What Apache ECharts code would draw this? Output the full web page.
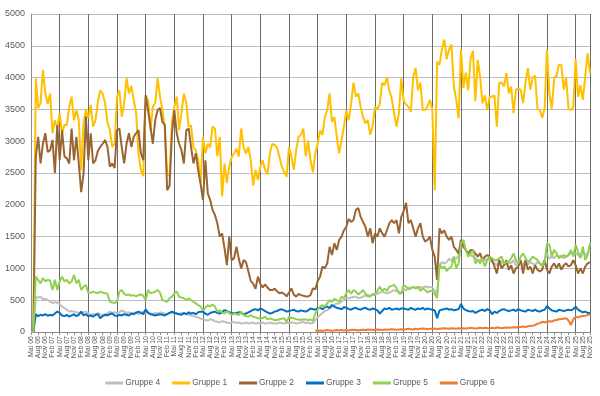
<!DOCTYPE html>
<html>
<head>
<meta charset="utf-8">
<script src="https://cdn.jsdelivr.net/npm/echarts@6/dist/echarts.min.js"></script>
<style>html,body{margin:0;padding:0;background:#fff}#c{width:600px;height:396px}</style>
</head>
<body>
<div id="c"></div>
<script>
// Month names (German) and first year of the category axis
const monthNames = ['Mai','Jun','Jul','Aug','Sep','Okt','Nov','Dez','Jan','Feb','Mrz','Apr'];
const firstYear = 6;
const monthCount = 235; // Mai 06 .. Nov 25

const seriesNames = ['Gruppe 4','Gruppe 1','Gruppe 2','Gruppe 3','Gruppe 5','Gruppe 6'];
const yTicks = [0,500,1000,1500,2000,2500,3000,3500,4000,4500,5000];

// Gruppe 1 (yellow), one row per year Mai..Apr
const g1 = [
 0,0,3990,3520,3600,4120,3750,3590,3750,3125,3330,3200,
 3440,3125,3260,3250,3540,3700,3330,3490,3330,2545,3280,3490,
 3360,3570,3230,3330,3620,3800,3750,3600,3300,3175,2910,2960,
 3700,3800,3385,3600,3990,3750,3870,3650,3450,2800,2545,2450,
 3700,3650,3175,3540,3600,3990,3700,3490,3230,2500,2450,3300,
 3540,3700,3175,3450,3750,3600,3230,3250,2900,2860,2700,2340,
 3070,2810,2960,2900,3230,3200,2760,3070,2130,2650,2340,2600,
 2750,2810,2880,2760,3200,2900,2810,2910,2700,2300,2550,2390,
 2600,2700,2550,2480,2810,2960,2940,2900,2750,2600,2520,2440,
 2910,2760,2550,2860,3070,3100,3200,2760,3010,2700,2510,2810,
 2960,3170,3100,3380,3490,3750,3300,3380,3070,2810,3020,3230,
 3480,3330,3590,3920,3700,3750,3540,3380,3280,3330,3100,3230,
 3540,3500,3590,3920,3880,4000,3800,3670,3440,3230,3440,3990,
 3630,3580,3540,3460,4010,4150,3800,3920,3490,3490,3550,3650,
 3490,2230,4250,4200,4450,4600,4290,4440,4520,3860,3650,3360,
 4440,3840,4080,3800,4290,4420,3630,4280,4010,3595,3720,3490,
 3700,3700,3720,3230,3920,3920,3860,4070,3750,3860,3440,3810,
 3830,3810,3600,3920,4150,3810,4000,4030,3510,3490,3370,3510,
 4440,3750,3510,3990,4030,4200,4200,3810,4000,3510,3490,3540,
 4290,3700,3880,3650,4010,4380,4070
];
// Gruppe 2 (brown)
const g2 = [
 0,0,2750,3070,2650,2960,3125,2830,2860,3020,2500,3250,
 2700,3170,2760,2730,2650,3200,2700,3070,2650,2200,2490,3390,
 2700,3125,2650,2700,2850,2910,2960,3020,2910,2600,2650,2580,
 3175,3200,2900,2650,2960,3125,2910,3070,3125,3175,2810,2700,
 3725,3490,3230,2960,3330,3490,3520,3300,3260,2230,2300,3125,
 3490,3125,2960,2860,2650,3170,3200,2910,2650,2810,2540,2330,
 2075,2700,2180,2075,1920,1840,1710,1500,1550,1320,1050,1500,
 1130,1160,1340,1150,1000,1130,1100,950,800,760,680,870,
 760,700,750,700,660,660,680,640,610,620,600,560,
 620,686,590,555,600,580,570,560,560,580,686,670,
 800,870,1030,1000,1080,1340,1210,1395,1290,1450,1500,1600,
 1655,1780,1730,1760,1920,1950,1810,1730,1655,1500,1630,1395,
 1550,1500,1630,1550,1500,1600,1710,1760,1710,1760,1550,1810,
 1900,2030,1710,1760,1630,1500,1630,1710,1500,1420,1450,1500,
 1290,1185,820,1630,1550,1600,1500,1450,1500,1340,1290,1235,
 1450,1340,1290,1235,1290,1290,1235,1185,1235,1130,1185,1210,
 1185,1130,1030,920,1130,1000,1050,1130,980,1050,920,1000,
 1030,1130,920,1130,980,1030,920,1050,980,950,980,1130,
 980,920,1030,1080,1000,1080,980,1050,1080,1030,1050,1130,
 1050,920,1000,920,1030,1080,1100
];
// Gruppe 3 (blue)
const g3 = [
 0,0,280,250,270,260,280,255,270,260,290,320,
 300,260,250,270,240,260,280,250,270,320,260,280,
 250,260,240,270,280,215,250,270,260,280,290,260,
 250,270,260,280,270,260,290,280,300,320,300,280,
 356,300,280,270,260,270,280,270,260,280,300,320,
 300,290,280,270,300,280,310,290,300,280,310,320,
 320,290,270,300,310,320,300,290,310,345,330,310,
 300,290,300,310,300,280,290,310,330,350,360,340,
 370,350,330,310,290,300,320,330,350,356,340,320,
 330,340,350,330,320,340,330,320,340,370,360,350,
 370,380,360,390,400,380,425,400,380,370,360,390,
 380,360,350,370,380,360,350,370,380,360,350,370,
 360,340,290,330,370,360,380,350,360,370,350,370,
 370,360,350,380,360,350,370,360,380,350,370,360,
 350,340,215,340,350,360,370,350,360,340,350,360,
 440,370,345,330,320,330,300,320,340,350,330,360,
 340,280,320,300,330,350,360,340,330,340,350,330,
 360,340,330,320,350,340,330,350,330,320,340,350,
 410,370,340,330,320,350,340,330,340,350,340,360,
 400,350,330,310,320,300,300
];
// Gruppe 4 (grey)
const g4 = [
 0,0,550,540,555,520,520,500,480,455,470,460,
 440,400,377,350,320,330,320,310,298,300,310,320,
 290,267,280,270,298,280,267,280,290,320,300,310,
 298,310,340,320,300,310,290,300,310,280,300,320,
 300,310,290,280,300,290,310,300,290,280,300,310,
 300,290,280,300,290,280,270,260,250,240,230,210,
 200,190,180,200,190,170,160,150,170,160,150,140,
 150,160,140,150,130,140,150,135,140,150,130,140,
 140,150,130,140,150,135,140,130,150,140,135,145,
 140,150,145,135,140,150,160,140,150,135,140,190,
 230,267,298,330,345,370,400,425,450,450,480,500,
 530,530,540,555,555,530,540,555,580,555,570,580,
 610,600,620,634,620,610,620,640,660,640,634,610,
 680,650,700,690,710,680,700,710,690,720,700,710,
 700,650,600,1050,1100,1080,1100,1150,1120,1185,1150,1200,
 1445,1350,1300,1235,1210,1185,1160,1130,1130,1160,1130,1150,
 1130,1100,1080,1050,1130,1100,1080,1060,1100,1080,1130,1050,
 1080,1100,1050,1130,1060,1100,1080,1050,1100,1080,1050,1130,
 1240,1150,1185,1160,1210,1185,1200,1160,1180,1210,1240,1240,
 1240,1210,1180,1260,1210,1240,1290
];
// Gruppe 5 (green)
const g5 = [
 0,0,870,820,765,850,795,820,810,660,820,660,
 800,870,795,820,765,795,895,765,820,660,712,740,
 610,620,634,620,610,634,620,610,600,476,465,455,
 480,634,660,600,580,590,570,580,560,580,590,570,
 500,660,610,620,634,660,620,503,490,476,530,555,
 610,634,555,540,530,503,530,500,476,450,424,400,
 340,380,424,400,430,400,320,340,310,290,320,300,
 267,290,280,267,320,267,250,240,267,240,230,215,
 215,220,240,200,215,200,190,190,200,210,215,162,
 240,220,215,200,195,190,200,195,190,195,180,290,
 350,400,424,400,450,500,476,520,500,480,555,530,
 610,660,600,660,634,590,620,660,600,580,555,600,
 580,650,712,650,680,650,712,725,740,690,610,600,
 740,712,670,686,712,690,712,650,686,660,620,650,
 640,600,530,1080,1000,1030,960,1000,1030,1180,1000,1080,
 1395,1450,1290,1185,1235,1290,1080,1130,1080,1160,1030,1130,
 1185,1160,1130,1130,1160,1185,1080,1100,1100,1160,1235,1130,
 1080,1185,1235,1160,1100,1130,1185,1160,1130,1080,1030,1100,
 1395,1370,1185,1290,1240,1160,1185,1210,1185,1210,1290,1185,
 1370,1260,1160,1340,1130,1210,1395
];
// Gruppe 6 (orange), starts at month index g6Start
const g6Start = 119;
const g6Values = [
 25,
 20,25,20,25,30,25,20,25,30,25,30,25,
 30,25,30,35,30,25,30,35,30,40,35,30,
 35,40,35,30,40,35,40,45,40,35,40,45,
 40,45,50,45,40,50,45,50,55,50,45,50,
 50,55,45,50,55,60,55,50,60,55,50,60,
 55,60,55,60,65,60,55,60,65,60,65,60,
 60,65,60,70,65,60,65,70,65,70,75,70,
 75,80,85,80,90,95,100,110,130,140,160,150,
 160,170,165,180,190,200,205,210,215,180,110,200,
 240,230,245,250,255,265,280
];
const g6 = new Array(g6Start).fill(null).concat(g6Values);

const categories = [];
for (let i = 0; i < monthCount; i++) {
  const yr = firstYear + Math.floor((i + 4) / 12);
  categories.push(monthNames[i % 12] + ' ' + String(yr).padStart(2, '0'));
}

const colors = ['#BFBFBF','#FFC000','#996633','#0070C0','#92D050','#ED7D31'];
const dataSets = [g4, g1, g2, g3, g5, g6];
const font = 'Liberation Sans, Arial, sans-serif';

const chart = echarts.init(document.getElementById('c'), null, {renderer: 'canvas'});
chart.setOption({
  animation: false,
  backgroundColor: '#ffffff',
  color: colors,
  grid: {left: 31, right: 10, top: 14, bottom: 64, containLabel: false},
  legend: {
    data: seriesNames,
    bottom: 4,
    left: 'center',
    icon: 'rect',
    itemWidth: 18,
    itemHeight: 3,
    itemGap: 12,
    textStyle: {fontFamily: font, fontSize: 8.4, color: '#595959', padding: [0,0,0,-3]}
  },
  xAxis: {
    type: 'category',
    data: categories,
    boundaryGap: false,
    axisLine: {show: true, lineStyle: {color: '#8c8c8c', width: 1}},
    axisTick: {show: true, interval: 2, length: 3, lineStyle: {color: '#8c8c8c'}},
    axisLabel: {interval: 2, rotate: 90, showMinLabel: true, showMaxLabel: true, hideOverlap: false,
                fontFamily: font, fontSize: 7, lineHeight: 7, color: '#595959', margin: 4},
    splitLine: {show: true, interval: 11, lineStyle: {color: '#6b6b6b', width: 1}}
  },
  yAxis: {
    type: 'value',
    min: yTicks[0],
    max: yTicks[yTicks.length - 1],
    interval: 500,
    axisLine: {show: true, lineStyle: {color: '#8c8c8c'}},
    axisTick: {show: false},
    axisLabel: {fontFamily: font, fontSize: 9, color: '#595959', margin: 6,
                formatter: v => String(v)},
    splitLine: {show: true, lineStyle: {color: '#bdbdbd', width: 1}}
  },
  series: seriesNames.map((name, k) => ({
    name: name,
    type: 'line',
    data: dataSets[k],
    showSymbol: false,
    symbol: 'none',
    connectNulls: false,
    lineStyle: {width: 2, color: colors[k]},
    itemStyle: {color: colors[k]},
    emphasis: {disabled: true}
  }))
});
</script>
</body>
</html>
